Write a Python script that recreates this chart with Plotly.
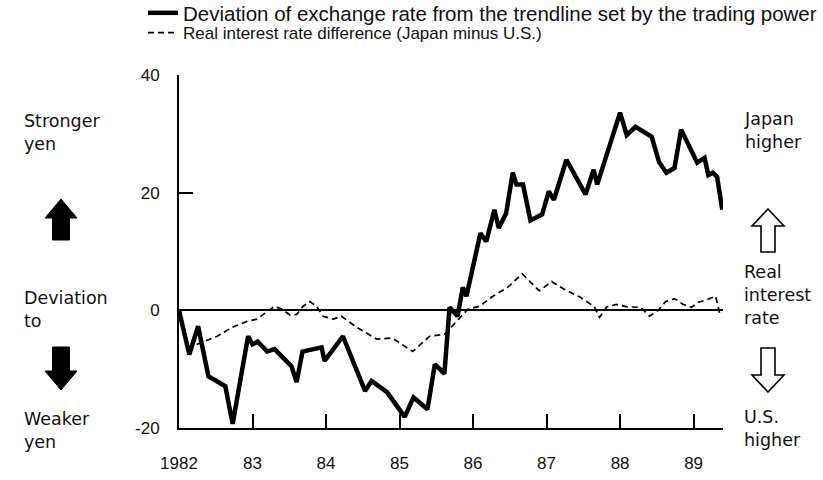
import plotly.graph_objects as go

# ---------------- data ----------------
dev_years = [1982.0, 1982.14, 1982.26, 1982.4, 1982.63, 1982.73, 1982.94, 1983.0, 1983.07, 1983.2,
             1983.3, 1983.53, 1983.6, 1983.68, 1983.94, 1983.98, 1984.23, 1984.53, 1984.62, 1984.83,
             1985.07, 1985.19, 1985.38, 1985.48, 1985.55, 1985.61, 1985.68, 1985.79, 1985.86, 1985.91,
             1986.1, 1986.18, 1986.29, 1986.35, 1986.45, 1986.54, 1986.59, 1986.68, 1986.78, 1986.94,
             1987.03, 1987.1, 1987.27, 1987.53, 1987.64, 1987.69, 1988.0, 1988.09, 1988.21, 1988.43,
             1988.53, 1988.63, 1988.74, 1988.83, 1989.05, 1989.15, 1989.2, 1989.26, 1989.32, 1989.39]
dev_values = [0, -7.5, -2.7, -11.2, -12.9, -19.3, -4.4, -5.8, -5.3, -7.0,
              -6.6, -9.5, -12.2, -7.0, -6.3, -8.6, -4.4, -13.7, -12.0, -13.9,
              -18.1, -14.8, -16.8, -9.2, -10.0, -10.8, 0.5, -1.0, 3.9, 2.4,
              13.1, 11.7, 17.1, 14.0, 16.5, 23.4, 21.4, 21.4, 15.3, 16.3,
              20.2, 18.8, 25.6, 19.7, 23.9, 21.4, 33.6, 29.8, 31.2, 29.5,
              25.2, 23.4, 24.2, 30.7, 25.1, 25.9, 23.0, 23.4, 22.7, 17.1]

rate_years = [1982.24, 1982.52, 1982.72, 1982.92, 1983.06, 1983.2, 1983.3, 1983.4, 1983.51, 1983.6,
              1983.69, 1983.78, 1983.87, 1983.96, 1984.1, 1984.21, 1984.42, 1984.69, 1984.9, 1985.18,
              1985.41, 1985.61, 1985.78, 1985.93, 1986.09, 1986.27, 1986.47, 1986.67, 1986.9, 1987.07,
              1987.22, 1987.45, 1987.65, 1987.72, 1987.82, 1987.95, 1988.1, 1988.28, 1988.4, 1988.52,
              1988.62, 1988.74, 1988.86, 1988.97, 1989.07, 1989.18, 1989.3, 1989.36]
rate_values = [-5.8, -4.4, -2.9, -1.9, -1.5, -0.3, 0.7, 0.2, -0.8, -0.7,
               0.7, 1.5, 0.7, -1.0, -1.5, -1.0, -2.9, -4.9, -4.7, -7.0,
               -4.4, -4.1, -1.9, 0.2, 0.7, 2.4, 3.9, 6.2, 3.3, 4.9,
               3.7, 2.3, 0.6, -1.2, 0.6, 1.0, 0.6, 0.5, -1.0, 0.0,
               1.5, 2.0, 1.0, 0.5, 1.4, 1.8, 2.4, -0.8]

x_tickvals = [1982, 1983, 1984, 1985, 1986, 1987, 1988, 1989]
x_ticktext = ["1982", "83", "84", "85", "86", "87", "88", "89"]
y_tickvals = [-20, 0, 20, 40]
y_ticktext = ["-20", "0", "20", "40"]

series_names = ["Deviation of exchange rate from the trendline set by the trading power",
                "Real interest rate difference (Japan minus U.S.)"]

# ---------------- layout helpers ----------------
W, H = 823, 480
L, R, T, B = 179, 723, 75, 428   # plot-area box in pixels
FONT = "Liberation Sans, Arial, sans-serif"
SIDE_FONT = "DejaVu Sans, sans-serif"


def px(x):
    return (x - L) / (R - L)


def py(y):
    return (B - y) / (B - T)


fig = go.Figure()
fig.add_trace(go.Scatter(x=dev_years, y=dev_values, mode="lines", name=series_names[0],
                         line=dict(color="black", width=4.5), showlegend=True, legend="legend"))
fig.add_trace(go.Scatter(x=rate_years, y=rate_values, mode="lines", name=series_names[1],
                         line=dict(color="black", width=1.7, dash="6px,4px"), showlegend=True,
                         legend="legend2"))

fig.update_layout(
    width=W, height=H,
    margin=dict(l=L, r=W - R, t=T, b=H - B, pad=0, autoexpand=False),
    paper_bgcolor="white", plot_bgcolor="white",
    font=dict(family=FONT, size=17, color="#111"),
    legend=dict(x=px(143), y=py(13), xanchor="left", yanchor="middle",
                bgcolor="rgba(0,0,0,0)", font=dict(size=20.5), itemwidth=30),
    legend2=dict(x=px(143), y=py(33), xanchor="left", yanchor="middle",
                 bgcolor="rgba(0,0,0,0)", font=dict(size=17), itemwidth=30),
    xaxis=dict(range=[1982, 1989.4], tickvals=x_tickvals, ticktext=x_ticktext,
               showgrid=False, zeroline=False, showline=True, linecolor="black", linewidth=2,
               ticks="inside", ticklen=14, tickwidth=2, tickcolor="black",
               ticklabelstandoff=19),
    yaxis=dict(range=[-20, 40], tickvals=y_tickvals, ticktext=y_ticktext,
               showgrid=False, zeroline=True, zerolinecolor="black", zerolinewidth=1.6,
               showline=True, linecolor="black", linewidth=2,
               ticks="inside", ticklen=14, tickwidth=2, tickcolor="black",
               ticklabelstandoff=14),
)

# side texts (pixel positions)
side_texts = [
    ("Stronger<br>yen", 22, 132),
    ("Deviation<br>to", 22, 309),
    ("Weaker<br>yen", 22, 430),
    ("Japan<br>higher", 742, 130),
    ("Real<br>interest<br>rate", 742, 295),
    ("U.S.<br>higher", 742, 428),
]
for txt, x0, yc in side_texts:
    fig.add_annotation(text=txt, xref="paper", yref="paper", x=px(x0), y=py(yc),
                       xanchor="left", yanchor="middle", showarrow=False, align="left",
                       font=dict(size=17.5, family=SIDE_FONT, color="#111"))


def arrow_path(cx, top, bottom, head_w, shaft_w, head_h, up=True):
    if up:
        pts = [(cx, top), (cx + head_w / 2, top + head_h), (cx + shaft_w / 2, top + head_h),
               (cx + shaft_w / 2, bottom), (cx - shaft_w / 2, bottom),
               (cx - shaft_w / 2, top + head_h), (cx - head_w / 2, top + head_h)]
    else:
        pts = [(cx, bottom), (cx + head_w / 2, bottom - head_h), (cx + shaft_w / 2, bottom - head_h),
               (cx + shaft_w / 2, top), (cx - shaft_w / 2, top),
               (cx - shaft_w / 2, bottom - head_h), (cx - head_w / 2, bottom - head_h)]
    return "M " + " L ".join(f"{px(a):.5f},{py(b):.5f}" for a, b in pts) + " Z"


# black arrows (left)
fig.add_shape(type="path", xref="paper", yref="paper",
              path=arrow_path(61, 199, 240, 32, 17, 19, True),
              fillcolor="black", line=dict(color="black", width=1))
fig.add_shape(type="path", xref="paper", yref="paper",
              path=arrow_path(61, 347, 390, 32, 17, 19, False),
              fillcolor="black", line=dict(color="black", width=1))
# hollow arrows (right)
fig.add_shape(type="path", xref="paper", yref="paper",
              path=arrow_path(768, 209, 252, 32, 14, 17, True),
              fillcolor="white", line=dict(color="black", width=1.6))
fig.add_shape(type="path", xref="paper", yref="paper",
              path=arrow_path(768, 348, 392, 32, 14, 17, False),
              fillcolor="white", line=dict(color="black", width=1.6))

fig.write_html("out.html", config={"displayModeBar": False},
               post_script="document.body.style.margin='0';document.body.style.overflow='hidden';")
